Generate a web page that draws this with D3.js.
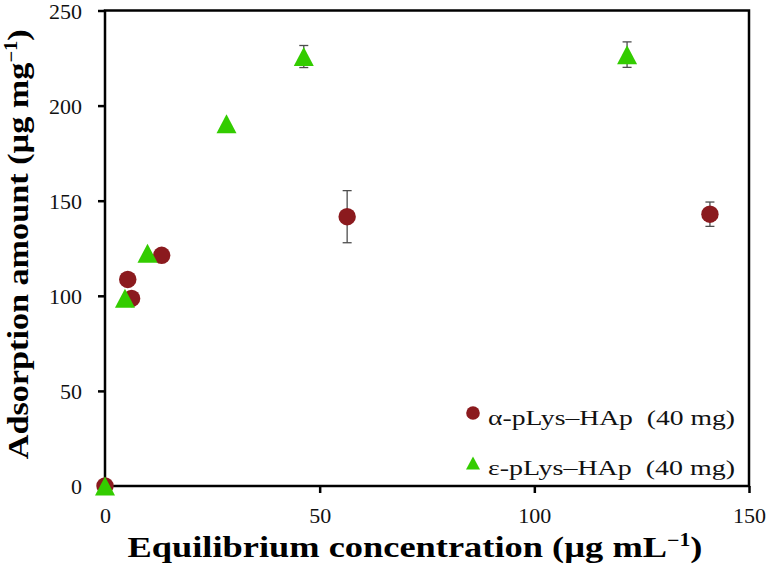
<!DOCTYPE html>
<html>
<head>
<meta charset="utf-8">
<script src="https://cdn.jsdelivr.net/npm/d3@7"></script>
<style>
  body { margin: 0; background: #fff; }
  svg text { font-family: "Liberation Serif", "Times New Roman", serif; }
</style>
</head>
<body>
<div id="chart"></div>
<script>
// data
var alphaX   = [0, 5.3, 6.2, 13.2, 56.4, 140.9];
var alphaY   = [0, 108.6, 98.6, 121.3, 141.6, 142.9];
var alphaErr = [0, 0, 0, 0, 13.7, 6.4];

var epsX   = [0, 4.65, 9.9, 28.3, 46.3, 121.6];
var epsY   = [0, 98.7, 122.4, 190.5, 225.8, 226.8];
var epsErr = [0, 0, 0, 0, 5.8, 6.7];

var xTicks = [0, 50, 100, 150];
var yTicks = [0, 50, 100, 150, 200, 250];

var legendLabels = ["α-pLys–HAp  (40 mg)", "ε-pLys–HAp  (40 mg)"];

// Set the dimensions and margins of the graph
var margin = {top: 10.5, right: 21, bottom: 83, left: 105},
    width = 770 - margin.left - margin.right,
    height = 569 - margin.top - margin.bottom;

var svg = d3.select("#chart")
  .append("svg")
    .attr("width", 770)
    .attr("height", 569)
  .append("g")
    .attr("transform", "translate(" + margin.left + "," + margin.top + ")");

var x = d3.scaleLinear().domain([0, 150]).range([0, width]);
var y = d3.scaleLinear().domain([0, 250]).range([height, 0]);

// axes
var xaxis = svg.append("g")
  .attr("transform", "translate(0," + height + ")")
  .call(d3.axisBottom(x).tickValues(xTicks).tickSize(7).tickSizeOuter(0).tickPadding(14));

var yaxis = svg.append("g")
  .call(d3.axisLeft(y).tickValues(yTicks).tickSize(7).tickSizeOuter(0).tickPadding(16));

[xaxis, yaxis].forEach(function(a) {
  a.attr("font-family", "Liberation Serif").attr("font-size", 22);
  a.selectAll(".tick line").attr("stroke", "#000").attr("stroke-width", 2.5);
  a.selectAll(".domain").remove();
  a.selectAll("text").attr("fill", "#111");
});
yaxis.selectAll("text").attr("dy", "0.36em");
xaxis.selectAll("text").attr("dy", "0.71em");

// frame
svg.append("rect")
  .attr("x", 0).attr("y", 0)
  .attr("width", width).attr("height", height)
  .attr("fill", "none")
  .attr("stroke", "#000")
  .attr("stroke-width", 2.5);

// axis titles
svg.append("text")
  .attr("x", 415 - margin.left)
  .attr("y", height + 71)
  .attr("text-anchor", "middle")
  .attr("textLength", 575)
  .attr("lengthAdjust", "spacingAndGlyphs")
  .style("font-size", "30px")
  .style("font-weight", "bold")
  .html('Equilibrium concentration (µg mL<tspan dy="-11" font-size="18px">−1</tspan><tspan dy="11">)</tspan>');

svg.append("text")
  .attr("transform", "translate(" + (-77) + "," + (height / 2 - 4) + ") rotate(-90)")
  .attr("text-anchor", "middle")
  .attr("textLength", 430)
  .attr("lengthAdjust", "spacingAndGlyphs")
  .style("font-size", "30px")
  .style("font-weight", "bold")
  .html('Adsorption amount (µg mg<tspan dy="-11" font-size="18px">−1</tspan><tspan dy="11">)</tspan>');

// series
var alpha = alphaX.map(function(d, i) { return {x: d, y: alphaY[i], e: alphaErr[i]}; });
var eps = epsX.map(function(d, i) { return {x: d, y: epsY[i], e: epsErr[i]}; });

var red = "#8b1a1e", green = "#33cc00";
var triangle = function(w, h) {
  return "M0," + (-h / 2) + "L" + (w / 2) + "," + (h / 2) + "L" + (-w / 2) + "," + (h / 2) + "Z";
};

function errorBars(data) {
  var g = svg.append("g").attr("stroke", "#4d4d4d").attr("stroke-width", 1.3);
  data.filter(function(d) { return d.e > 0; }).forEach(function(d) {
    var cx = x(d.x), y0 = y(d.y - d.e), y1 = y(d.y + d.e);
    g.append("line").attr("x1", cx).attr("x2", cx).attr("y1", y0).attr("y2", y1);
    g.append("line").attr("x1", cx - 4.5).attr("x2", cx + 4.5).attr("y1", y0).attr("y2", y0);
    g.append("line").attr("x1", cx - 4.5).attr("x2", cx + 4.5).attr("y1", y1).attr("y2", y1);
  });
}

errorBars(alpha);
svg.append("g").selectAll("circle")
  .data(alpha)
  .join("circle")
    .attr("cx", function(d) { return x(d.x); })
    .attr("cy", function(d) { return y(d.y); })
    .attr("r", 8.7)
    .attr("fill", red);

errorBars(eps);
svg.append("g").selectAll("path")
  .data(eps)
  .join("path")
    .attr("transform", function(d) { return "translate(" + x(d.x) + "," + y(d.y) + ")"; })
    .attr("d", triangle(20, 19))
    .attr("fill", green);

// legend
var legend = svg.append("g").attr("transform", "translate(" + (473 - margin.left) + "," + (413 - margin.top) + ")");
legend.append("circle").attr("cx", 0).attr("cy", 0).attr("r", 6.8).attr("fill", red);
legend.append("path").attr("transform", "translate(0,50)").attr("d", triangle(14, 13)).attr("fill", green);
legend.selectAll("text")
  .data(legendLabels)
  .join("text")
    .attr("x", 15)
    .attr("y", function(d, i) { return i * 50 + 12; })
    .attr("textLength", 247)
    .attr("lengthAdjust", "spacingAndGlyphs")
    .style("font-size", "22px")
    .style("white-space", "pre")
    .attr("fill", "#111")
    .text(function(d) { return d; });
</script>
</body>
</html>
